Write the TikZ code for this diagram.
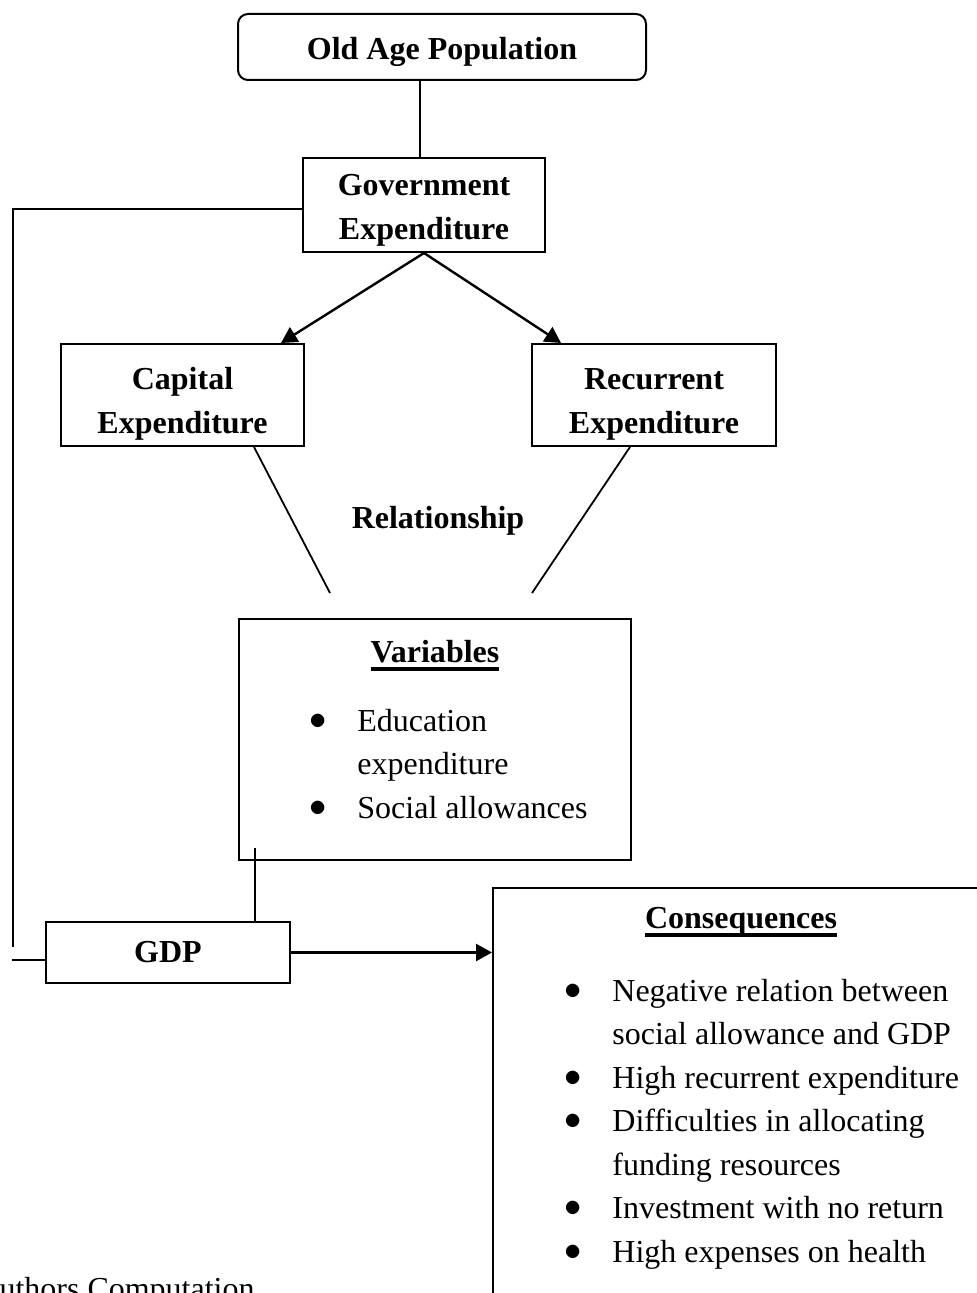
\documentclass[tikz,border=0pt]{standalone}
\usepackage{fontspec}
\setmainfont{Liberation Serif}
\usepackage{tikz}
\usetikzlibrary{arrows.meta}
\definecolor{ColLine}{RGB}{0,0,0}
\newcommand{\BoxText}[2]{\raisebox{-#1}[\height][\depth]{\begin{tabular}{@{}c@{}}#2\end{tabular}}}
\newcommand{\UnderBold}[1]{\setbox0\hbox{#1}\rlap{\rule[-4.3pt]{\wd0}{2pt}}\box0}
\newcommand{\ListDot}{\raisebox{1pt}{$\bullet$}}
\tikzstyle{BoxNode}=[rectangle,draw=ColLine,line width=1pt,inner sep=0pt,align=center,
font=\fontsize{16}{21.75}\selectfont\bfseries]
\tikzstyle{RoundNode}=[BoxNode,rounded corners=5pt]
\tikzstyle{LabelNode}=[inner sep=0pt,font=\fontsize{16}{21.75}\selectfont\bfseries]
\tikzstyle{ListNode}=[inner sep=0pt,anchor=base west,font=\fontsize{16}{21.75}\selectfont]
\tikzstyle{EdgeArrow}=[ColLine,line width=1.2pt,-{Triangle[length=8pt,width=8.5pt]}]
\tikzstyle{EdgePlain}=[ColLine,line width=0.9pt]
\begin{document}
\begin{tikzpicture}[x=0.5pt,y=-0.5pt]
        \useasboundingbox (0,0) rectangle (976,1293);
        \node[RoundNode,minimum width=204pt,minimum height=33pt](old)at(442,47){\BoxText{2pt}{Old Age Population}};
        \node[BoxNode,minimum width=121pt,minimum height=47pt](gov)at(424,205){\BoxText{2pt}{Government\\Expenditure}};
        \node[BoxNode,minimum width=121.5pt,minimum height=51pt](cap)at(182.5,395){\BoxText{4pt}{Capital\\Expenditure}};
        \node[BoxNode,minimum width=122pt,minimum height=51pt](rec)at(654,395){\BoxText{4pt}{Recurrent\\Expenditure}};
        \node[LabelNode,anchor=base](rel)at(438,528){Relationship};
        \node[BoxNode,minimum width=196pt,minimum height=120.5pt](var)at(435,739.5){};
        \node[LabelNode,anchor=base](vartitle)at(435,662){\UnderBold{Variables}};
        \node[ListNode](varlist)at(309,731){\begin{tabular}[t]{@{}p{24pt}@{}l@{}}
            \ListDot & Education\\ & expenditure\\ \ListDot & Social allowances\end{tabular}};
        \node[BoxNode,minimum width=122pt,minimum height=30.5pt](gdp)at(168,952.5){GDP};
        \node[BoxNode,minimum width=258.5pt,minimum height=221pt](cons)at(751.5,1109){};
        \node[LabelNode,anchor=base](constitle)at(741,928){\UnderBold{Consequences}};
        \node[ListNode](conslist)at(564,1001){\begin{tabular}[t]{@{}p{24pt}@{}l@{}}
            \ListDot & Negative relation between\\ & social allowance and GDP\\
            \ListDot & High recurrent expenditure\\
            \ListDot & Difficulties in allocating\\ & funding resources\\
            \ListDot & Investment with no return\\
            \ListDot & High expenses on health\end{tabular}};
        \node[ListNode](src)at(-24,1299){Authors Computation};
        % connectors
        \coordinate(capend)at(330,593);
        \coordinate(recend)at(532,593);
        \coordinate(loopend)at(13,947);
        \coordinate(gdpstub)at(12,960);
        \coordinate(vartail)at(255,848);
        \draw[EdgePlain]([xshift=-11pt]old.south)--([xshift=-2pt]gov.north);
        \draw[EdgeArrow](gov.south)--([xshift=-12pt]cap.north east);
        \draw[EdgeArrow](gov.south)--([xshift=15pt]rec.north west);
        \draw[EdgePlain]([xshift=35.75pt]cap.south)--(capend);
        \draw[EdgePlain]([xshift=-12pt]rec.south)--(recend);
        \draw[EdgePlain]([yshift=-2pt]gov.west)-|(loopend);
        \draw[EdgePlain](gdpstub)--(gdpstub-|gdp.west);
        \draw[EdgePlain](vartail)--(vartail|-gdp.north);
        \draw[EdgeArrow](gdp.east)--(gdp.east-|cons.west);
    \end{tikzpicture}
\end{document}
